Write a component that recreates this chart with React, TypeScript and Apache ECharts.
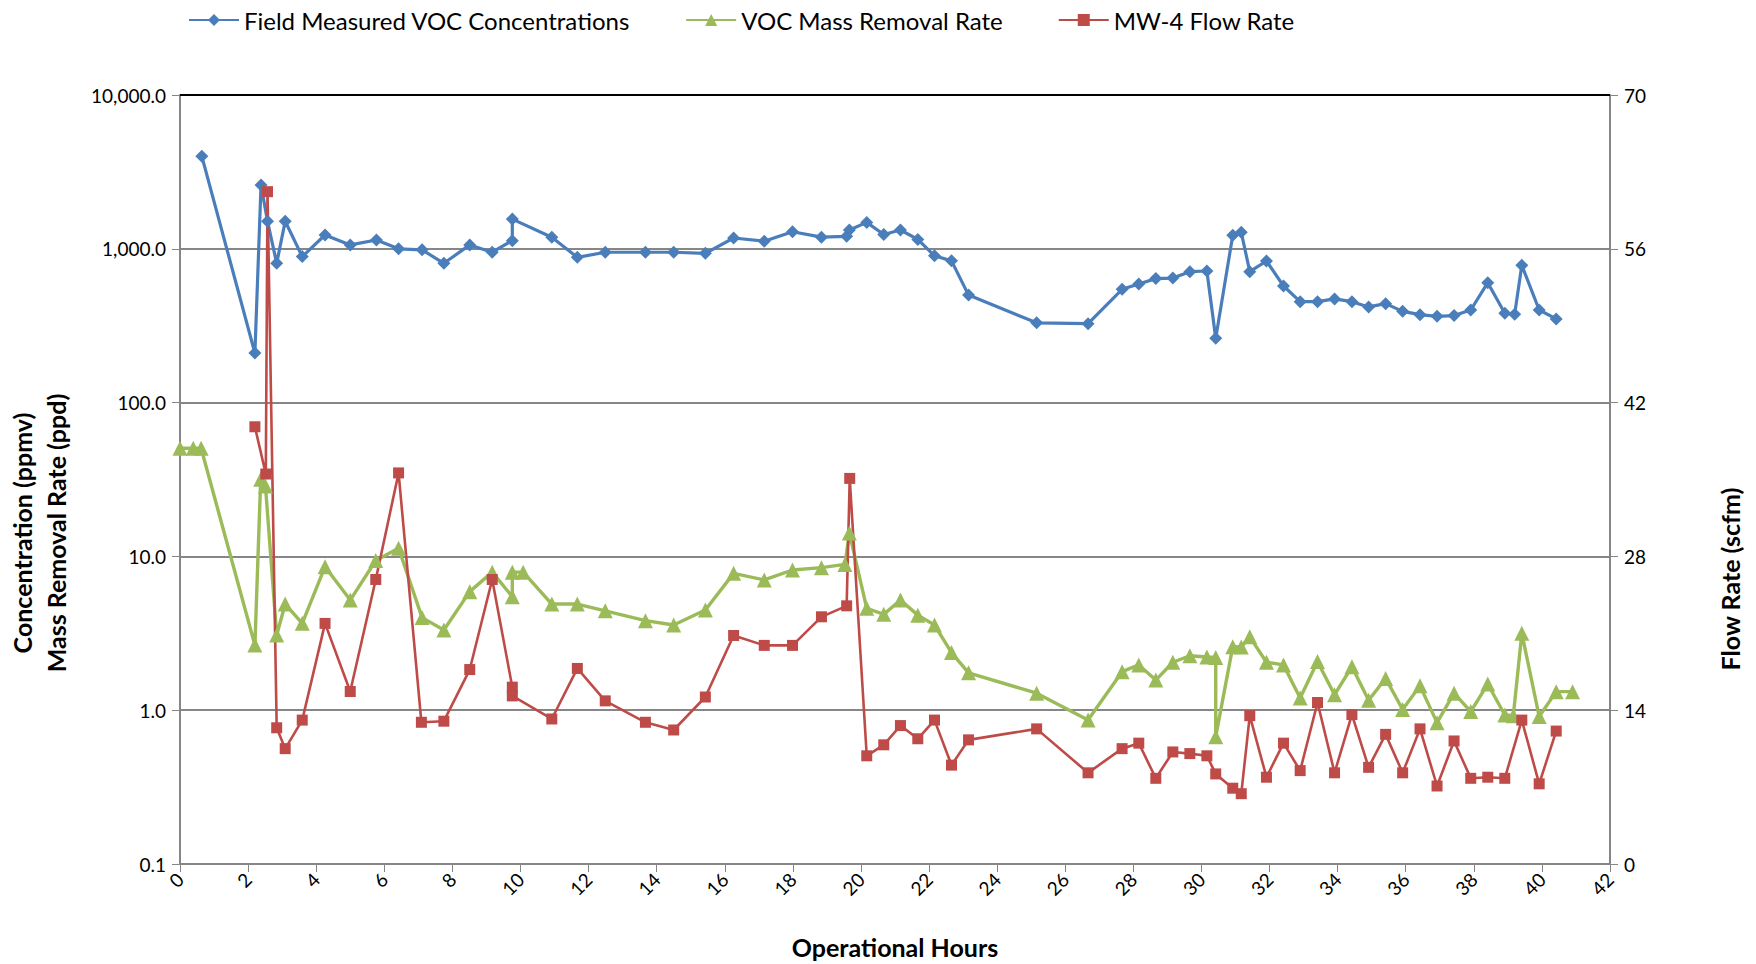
import React, { useEffect, useRef } from "react";
import * as echarts from "echarts";

const vocHours = [0.64, 2.2, 2.38, 2.57, 2.84, 3.09, 3.59, 4.26, 5.0, 5.77, 6.42, 7.11, 7.75, 8.51, 9.17, 9.76, 9.76, 10.92, 11.67, 12.49, 13.67, 14.5, 15.43, 16.26, 17.16, 17.99, 18.84, 19.58, 19.66, 20.17, 20.67, 21.16, 21.67, 22.16, 22.66, 23.16, 25.16, 26.67, 27.67, 28.16, 28.66, 29.16, 29.66, 30.16, 30.42, 30.92, 31.17, 31.42, 31.91, 32.41, 32.9, 33.41, 33.91, 34.42, 34.91, 35.41, 35.91, 36.42, 36.92, 37.42, 37.91, 38.41, 38.91, 39.2, 39.41, 39.92, 40.42];
const vocConc = [4000, 210, 2600, 1510, 805, 1510, 890, 1230, 1060, 1140, 1000, 985, 805, 1060, 950, 1130, 1560, 1190, 880, 950, 950, 950, 935, 1175, 1120, 1290, 1190, 1205, 1325, 1485, 1240, 1325, 1150, 900, 835, 500, 330, 326, 545, 590, 640, 645, 710, 717, 262, 1224, 1280, 710, 833, 573, 453, 453, 472, 453, 419, 440, 392, 373, 364, 368, 400, 602, 381, 376, 781, 400, 350];

const rateHours = [0, 0.39, 0.62, 2.2, 2.37, 2.51, 2.84, 3.09, 3.59, 4.26, 5.0, 5.75, 6.42, 7.11, 7.75, 8.51, 9.17, 9.76, 9.76, 10.08, 10.92, 11.67, 12.49, 13.67, 14.5, 15.43, 16.26, 17.16, 17.99, 18.84, 19.53, 19.66, 20.17, 20.67, 21.16, 21.67, 22.16, 22.66, 23.16, 25.16, 26.67, 27.67, 28.16, 28.66, 29.16, 29.66, 30.16, 30.42, 30.42, 30.92, 31.17, 31.42, 31.91, 32.41, 32.9, 33.41, 33.91, 34.42, 34.91, 35.41, 35.91, 36.42, 36.92, 37.42, 37.91, 38.41, 38.91, 39.16, 39.41, 39.92, 40.42, 40.9];
const removalRate = [50.5, 50.5, 50.5, 2.65, 31.7, 28.7, 3.08, 4.9, 3.67, 8.57, 5.2, 9.4, 11.3, 4.0, 3.32, 5.9, 7.9, 5.47, 7.9, 7.9, 4.9, 4.9, 4.43, 3.82, 3.58, 4.48, 7.76, 7.03, 8.16, 8.45, 8.87, 14.2, 4.6, 4.2, 5.2, 4.15, 3.58, 2.37, 1.75, 1.29, 0.863, 1.78, 1.97, 1.57, 2.05, 2.26, 2.22, 2.2, 0.673, 2.59, 2.58, 3.0, 2.05, 1.97, 1.2, 2.07, 1.26, 1.92, 1.16, 1.61, 1.01, 1.44, 0.83, 1.29, 0.98, 1.48, 0.93, 0.92, 3.16, 0.91, 1.32, 1.32];

const flowHours = [2.2, 2.52, 2.57, 2.84, 3.09, 3.59, 4.26, 5.0, 5.75, 6.42, 7.09, 7.75, 8.51, 9.17, 9.76, 9.76, 10.92, 11.67, 12.49, 13.67, 14.5, 15.43, 16.26, 17.16, 17.99, 18.84, 19.58, 19.67, 20.17, 20.67, 21.16, 21.67, 22.16, 22.66, 23.16, 25.16, 26.67, 27.67, 28.16, 28.66, 29.16, 29.66, 30.16, 30.42, 30.92, 31.17, 31.42, 31.91, 32.41, 32.9, 33.41, 33.91, 34.42, 34.91, 35.41, 35.91, 36.42, 36.92, 37.42, 37.91, 38.41, 38.91, 39.41, 39.92, 40.42];
const flowRate = [39.8, 35.5, 61.2, 12.4, 10.5, 13.1, 21.9, 15.7, 25.9, 35.6, 12.9, 13.0, 17.7, 25.9, 16.1, 15.3, 13.2, 17.8, 14.85, 12.9, 12.2, 15.2, 20.8, 19.9, 19.9, 22.5, 23.5, 35.1, 9.85, 10.85, 12.6, 11.4, 13.1, 9.0, 11.3, 12.3, 8.3, 10.5, 11.0, 7.8, 10.2, 10.05, 9.85, 8.2, 6.9, 6.4, 13.5, 7.9, 11.0, 8.5, 14.7, 8.3, 13.6, 8.8, 11.8, 8.3, 12.3, 7.1, 11.2, 7.8, 7.9, 7.8, 13.1, 7.3, 12.1];

const seriesNames = ["Field Measured VOC Concentrations", "VOC Mass Removal Rate", "MW-4 Flow Rate"];
const xAxisTitle = "Operational Hours";
const leftAxisTitle = "Concentration (ppmv)\nMass Removal Rate (ppd)";
const rightAxisTitle = "Flow Rate (scfm)";

const FONT = "Lato, 'Noto Sans', sans-serif";
const AXIS_GRAY = "#868686";

function pairs(xs: number[], ys: number[]) {
  return xs.map((x, i) => [x, ys[i]]);
}

export default function App() {
  const ref = useRef<HTMLDivElement>(null);
  useEffect(() => {
    document.body.style.margin = "0";
    if (!ref.current) return;
    const chart = echarts.init(ref.current, undefined, { renderer: "svg" });
    const labelStyle = { color: "#000", fontFamily: FONT, fontSize: 19 };
    const titleStyle = { fill: "#000", fontFamily: FONT, fontSize: 25, fontWeight: "bold" };
    chart.setOption({
      animation: false,
      backgroundColor: "#fff",
      textStyle: { fontFamily: FONT },
      legend: {
        left: 183,
        top: 3,
        itemWidth: 50,
        itemHeight: 15,
        itemGap: 55,
        textStyle: { color: "#000", fontFamily: FONT, fontSize: 24 },
        data: seriesNames,
      },
      grid: { left: 180, right: 146, top: 95, bottom: 99, containLabel: false },
      graphic: [
        {
          type: "line",
          shape: { x1: 180, y1: 95, x2: 1610, y2: 95 },
          style: { stroke: "#000", lineWidth: 2 },
          z: 10,
        },
        {
          type: "text",
          x: 39,
          y: 533,
          rotation: Math.PI / 2,
          style: {
            ...titleStyle,
            text: leftAxisTitle,
            lineHeight: 34,
            align: "center",
            verticalAlign: "middle",
          },
        },
        {
          type: "text",
          x: 1730,
          y: 579,
          rotation: Math.PI / 2,
          style: {
            ...titleStyle,
            text: rightAxisTitle,
            align: "center",
            verticalAlign: "middle",
          },
        },
      ],
      xAxis: {
        type: "value",
        min: 0,
        max: 42,
        interval: 2,
        name: xAxisTitle,
        nameLocation: "middle",
        nameGap: 70,
        nameTextStyle: { color: "#000", fontFamily: FONT, fontSize: 25, fontWeight: "bold" },
        axisLine: { show: true, lineStyle: { color: AXIS_GRAY, width: 2 } },
        axisTick: { show: true, length: 8, lineStyle: { color: AXIS_GRAY, width: 1 } },
        axisLabel: { ...labelStyle, rotate: 45, margin: 12 },
        splitLine: { show: false },
      },
      yAxis: [
        {
          type: "log",
          logBase: 10,
          min: 0.1,
          max: 10000,
          splitNumber: 5,
          position: "left",
          axisLine: { show: true, lineStyle: { color: AXIS_GRAY, width: 2 } },
          axisTick: { show: true, length: 8, lineStyle: { color: AXIS_GRAY, width: 1 } },
          axisLabel: {
            ...labelStyle,
            margin: 14,
            formatter: (v: number) =>
              Number(v).toLocaleString("en-US", { minimumFractionDigits: 1, maximumFractionDigits: 1 }),
          },
          splitLine: { show: true, lineStyle: { color: AXIS_GRAY, width: 2 } },
        },
        {
          type: "value",
          min: 0,
          max: 70,
          interval: 14,
          position: "right",
          axisLine: { show: true, lineStyle: { color: AXIS_GRAY, width: 2 } },
          axisTick: { show: true, length: 8, lineStyle: { color: AXIS_GRAY, width: 1 } },
          axisLabel: { ...labelStyle, margin: 14 },
          splitLine: { show: false },
        },
      ],
      series: [
        {
          name: seriesNames[0],
          type: "line",
          yAxisIndex: 0,
          data: pairs(vocHours, vocConc),
          symbol: "diamond",
          symbolSize: 13,
          itemStyle: { color: "#4A7EBB" },
          lineStyle: { color: "#4A7EBB", width: 3.2 },
        },
        {
          name: seriesNames[1],
          type: "line",
          yAxisIndex: 0,
          data: pairs(rateHours, removalRate),
          symbol: "triangle",
          symbolSize: 15,
          itemStyle: { color: "#9BBB59" },
          lineStyle: { color: "#9BBB59", width: 3.4 },
        },
        {
          name: seriesNames[2],
          type: "line",
          yAxisIndex: 1,
          data: pairs(flowHours, flowRate),
          symbol: "rect",
          symbolSize: 11,
          itemStyle: { color: "#BE4B48" },
          lineStyle: { color: "#BE4B48", width: 2.6 },
        },
      ],
    });
    return () => chart.dispose();
  }, []);
  return <div ref={ref} style={{ position: "fixed", left: 0, top: 0, width: 1756, height: 964 }} />;
}
